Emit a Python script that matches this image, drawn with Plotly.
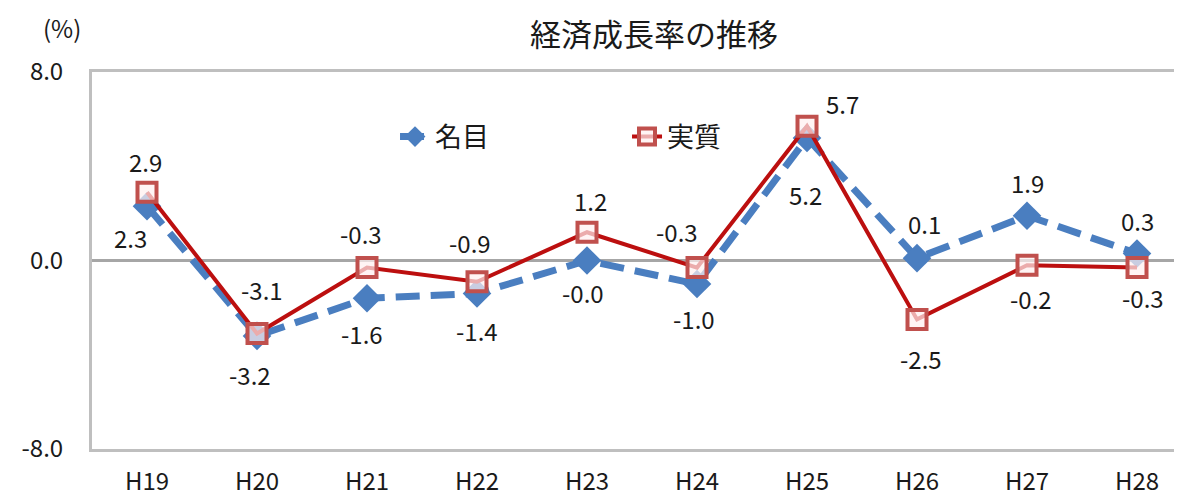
import plotly.graph_objects as go

categories = ["H19", "H20", "H21", "H22", "H23", "H24", "H25", "H26", "H27", "H28"]
nominal = [2.3, -3.2, -1.6, -1.4, -0.0, -1.0, 5.2, 0.1, 1.9, 0.3]
real = [2.9, -3.1, -0.3, -0.9, 1.2, -0.3, 5.7, -2.5, -0.2, -0.3]
y_ticks = [-8, 0, 8]
y_tick_labels = ["-8.0", "0.0", "8.0"]

# label offsets (pixels) - style only
nom_shift = [(-17, -31), (-7, -39), (-5, -35), (0, -37), (-4, -32),
             (-3, -34), (-2, -57), (7, 35), (0, 33), (0, 33)]
real_shift = [(-2, 31), (5, 44), (-6, 34), (-7, 39), (3, 32),
              (-20, 36), (35, 23), (4, -39), (4, -33), (6, -30)]

FONT = "Noto Sans CJK JP"
TXT = "#1a1a1a"
BLUE = "#4A7EC0"
RED = "#BC0F0F"

fig = go.Figure()
fig.add_trace(go.Scatter(
    x=categories, y=nominal, name="名目", mode="lines+markers",
    line=dict(color=BLUE, width=7, dash="24px,11px"),
    marker=dict(symbol="diamond", size=22, color=BLUE),
))
fig.add_trace(go.Scatter(
    x=categories, y=real, name="実質", mode="lines+markers",
    line=dict(color=RED, width=4),
    marker=dict(symbol="square", size=19, color="rgba(255,240,240,0.7)",
                line=dict(color="#C0504D", width=4)),
))

annotations = []
for cat, v, (dx, dy) in zip(categories, nominal, nom_shift):
    annotations.append(dict(x=cat, y=v, xref="x", yref="y", text=f"{v:.1f}",
                            showarrow=False, xshift=dx, yshift=dy,
                            xanchor="center", yanchor="middle",
                            font=dict(family=FONT, size=24, color=TXT)))
for cat, v, (dx, dy) in zip(categories, real, real_shift):
    annotations.append(dict(x=cat, y=v, xref="x", yref="y", text=f"{v:.1f}",
                            showarrow=False, xshift=dx, yshift=dy,
                            xanchor="center", yanchor="middle",
                            font=dict(family=FONT, size=24, color=TXT)))
annotations.append(dict(text="(%)", xref="paper", yref="paper", x=-0.0275, y=1.117,
                        xanchor="center", yanchor="middle", showarrow=False,
                        font=dict(family=FONT, size=24, color=TXT)))

fig.update_layout(
    width=1174, height=489,
    margin=dict(l=84, r=0, t=64, b=48, autoexpand=False),
    paper_bgcolor="white", plot_bgcolor="white",
    font=dict(family=FONT, size=24, color=TXT),
    title=dict(text="経済成長率の推移", xref="container", yref="container",
               x=0.5503, xanchor="center", y=0.945, yanchor="middle",
               font=dict(family=FONT, size=31, color=TXT)),
    showlegend=True,
    legend=dict(orientation="h", x=0.278, y=0.8276, xanchor="left", yanchor="middle",
                font=dict(family=FONT, size=27, color=TXT),
                bgcolor="rgba(0,0,0,0)", entrywidth=187, entrywidthmode="pixels"),
    xaxis=dict(type="category", range=[-0.5, 9.409], showgrid=False, zeroline=False,
               showline=True, linecolor="#BFBFBF", linewidth=3, mirror=True,
               ticks="", ticklabelstandoff=9,
               tickfont=dict(family=FONT, size=24, color=TXT)),
    yaxis=dict(range=[-8, 8], tickvals=y_ticks, ticktext=y_tick_labels, showgrid=False,
               zeroline=True, zerolinecolor="#A6A6A6", zerolinewidth=3,
               showline=True, linecolor="#BFBFBF", linewidth=3, mirror=False,
               ticks="", ticklabelstandoff=21,
               tickfont=dict(family=FONT, size=24, color=TXT)),
    annotations=annotations,
)

fig.write_html("out.html")
